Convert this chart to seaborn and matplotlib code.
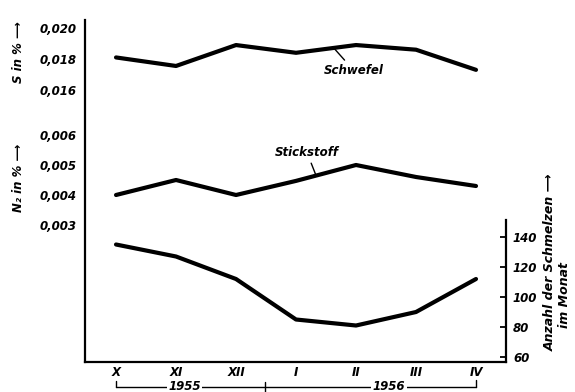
import numpy as np
import pandas as pd
import matplotlib
matplotlib.use("Agg")
import matplotlib.pyplot as plt
import seaborn as sns

# ---- data ----
months = ["X", "XI", "XII", "I", "II", "III", "IV"]
schwefel = [0.0181, 0.01755, 0.0189, 0.0184, 0.0189, 0.0186, 0.0173]
stickstoff = [0.0040, 0.0045, 0.0040, 0.00447, 0.0050, 0.0046, 0.0043]
schmelzen = [135, 127, 112, 85, 81, 90, 112]

s_ticks = [0.016, 0.018, 0.020]
s_labels = ["0,016", "0,018", "0,020"]
n_ticks = [0.003, 0.004, 0.005, 0.006]
n_labels = ["0,003", "0,004", "0,005", "0,006"]
c_ticks = [60, 80, 100, 120, 140]
c_labels = ["60", "80", "100", "120", "140"]

sns.set_style("white")
plt.rcParams["font.family"] = ["DejaVu Sans"]
plt.rcParams.update({"text.color": "black", "axes.labelcolor": "black",
                     "xtick.color": "black", "ytick.color": "black",
                     "axes.edgecolor": "black"})

pos = np.arange(len(months))
df = pd.DataFrame({"pos": pos, "S": schwefel, "N": stickstoff, "C": schmelzen})

W, H = 575, 392
fig = plt.figure(figsize=(W / 100, H / 100), dpi=100)
L, R, B, T = 85, 506, 362, 20
rect = [L / W, (H - B) / H, (R - L) / W, (B - T) / H]

ax_c = fig.add_axes(rect)
ax_n = fig.add_axes(rect)
ax_s = fig.add_axes(rect)
for a in (ax_n, ax_s):
    a.patch.set_visible(False)

lw = 3.0
sns.lineplot(data=df, x="pos", y="C", ax=ax_c, color="black", linewidth=lw)
sns.lineplot(data=df, x="pos", y="N", ax=ax_n, color="black", linewidth=lw)
sns.lineplot(data=df, x="pos", y="S", ax=ax_s, color="black", linewidth=lw)

xlim = (-0.517, 6.5)
for a in (ax_c, ax_n, ax_s):
    a.set_xlim(*xlim)
    a.set_xlabel("")
    a.set_ylabel("")
    for sp in a.spines.values():
        sp.set_visible(False)
        sp.set_linewidth(1.6)
        sp.set_color("black")

ax_c.set_ylim(56.67, 284.67)
ax_n.set_ylim(-0.0015667, 0.0098333)
ax_s.set_ylim(-0.001548, 0.020516)

tfont = dict(fontsize=8.5, fontstyle="italic", fontweight="bold", color="black")

# count axis (right + bottom)
ax_c.spines["bottom"].set_visible(True)
ax_c.spines["right"].set_visible(True)
ax_c.spines["right"].set_bounds(56.67, 151.3)
ax_c.yaxis.tick_right()
ax_c.set_yticks(c_ticks, c_labels, **tfont)
ax_c.set_xticks(pos, months, **tfont)
ax_c.tick_params(axis="both", direction="in", length=4, width=1.3, colors="black")
ax_c.tick_params(axis="y", pad=5)
ax_c.tick_params(axis="x", pad=3)

# sulfur axis (left spine)
ax_s.spines["left"].set_visible(True)
ax_s.set_yticks(s_ticks, s_labels, **tfont)
ax_s.set_xticks([])
ax_s.tick_params(axis="y", direction="in", length=4, width=1.3, pad=6, colors="black")

# nitrogen axis
ax_n.set_yticks(n_ticks, n_labels, **tfont)
ax_n.set_xticks([])
ax_n.tick_params(axis="y", direction="in", length=4, width=1.3, pad=6, colors="black")

# axis labels
lfont = dict(fontsize=8.5, fontstyle="italic", fontweight="bold", rotation=90,
             ha="center", va="center", color="black")
fig.text(18 / W, 1 - 52 / H, "S in % \u27f6", **lfont)
fig.text(18 / W, 1 - 178 / H, "N\u2082 in % \u27f6", **lfont)
fig.text(550 / W, 1 - 262 / H, "Anzahl der Schmelzen \u27f6", fontsize=9, color="black",
         fontstyle="italic", fontweight="bold", rotation=90, ha="center", va="center")
fig.text(564 / W, 1 - 295 / H, "im Monat", fontsize=9, color="black",
         fontstyle="italic", fontweight="bold", rotation=90, ha="center", va="center")

# curve annotations
afont = dict(fontsize=8.5, fontstyle="italic", fontweight="bold", color="black")
ax_s.annotate("Schwefel", xy=(3.62, 0.01875), xytext=(3.97, 0.01723),
              ha="center", va="center",
              arrowprops=dict(arrowstyle="-", color="black", lw=1.0, shrinkA=1, shrinkB=0),
              **afont)
ax_n.annotate("Stickstoff", xy=(3.33, 0.00467), xytext=(3.18, 0.00543),
              ha="center", va="center",
              arrowprops=dict(arrowstyle="-", color="black", lw=1.0, shrinkA=1, shrinkB=0),
              **afont)

# year brackets
tr = ax_c.get_xaxis_transform()
yb = (B - 387) / (B - T)
kw = dict(color="black", lw=1.0, clip_on=False, transform=tr)
ax_c.plot([pos[0], pos[0]], [(B - 381) / (B - T), yb], **kw)
ax_c.plot([pos[0], pos[-1]], [yb, yb], **kw)
ax_c.plot([pos[-1], pos[-1]], [yb, (B - 380) / (B - T)], **kw)
ax_c.plot([2.48, 2.48], [(B - 382) / (B - T), (B - 392) / (B - T)], **kw)
yfont = dict(fontsize=8.5, fontstyle="italic", fontweight="bold", ha="center",
             va="center", transform=tr, color="black",
             bbox=dict(facecolor="white", edgecolor="none", pad=1.0))
ax_c.text(1.14, yb, "1955", **yfont)
ax_c.text(4.55, yb, "1956", **yfont)

fig.savefig("out.png", dpi=100, facecolor="white")
